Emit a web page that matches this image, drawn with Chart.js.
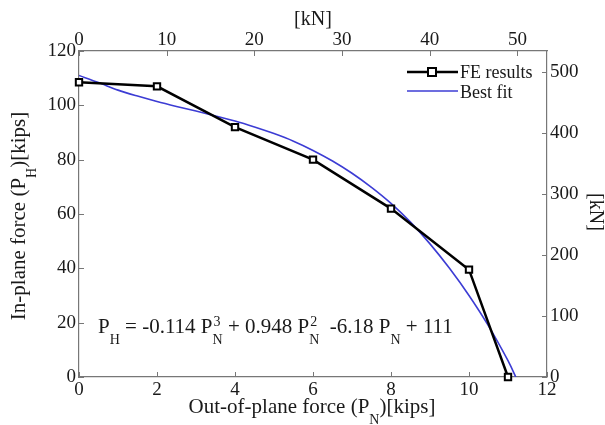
<!DOCTYPE html>
<html>
<head>
<meta charset="utf-8">
<script src="https://cdn.jsdelivr.net/npm/chart.js@4.4.0/dist/chart.umd.min.js"></script>
<style>
  html, body { margin: 0; padding: 0; background: #fff; }
</style>
</head>
<body>
<canvas id="grafico" width="605" height="425"></canvas>
<script>
        // ============ DATOS ============
        const KIP_A_KN = 4.448;

        // FE results (kips)
        const feX = [0, 2, 4, 6, 8, 10, 11];
        const feY = [108.5, 107, 92, 80, 62, 39.5, 0];

        // Best fit curve (kips)
        const fitX = [0, 0.5, 1, 1.5, 2, 2.5, 3, 3.5, 4, 4.5, 5, 5.5, 6, 6.5, 7, 7.5, 8, 8.5, 9, 9.5, 10, 10.5, 11, 11.2];
        const fitY = [111, 108.4, 105.6, 103.4, 101.4, 99.6, 97.9, 96.1, 94.2, 92, 89.6, 86.8, 83.4, 79.5, 75, 69.8, 63.9, 57, 49, 40, 30, 18.8, 6, 0];

        const xTicksKips = [0, 2, 4, 6, 8, 10, 12];
        const yTicksKips = [0, 20, 40, 60, 80, 100, 120];
        const xTicksKN = [0, 10, 20, 30, 40, 50];
        const yTicksKN = [0, 100, 200, 300, 400, 500];

        const serieFE = 'FE results';
        const serieFit = 'Best fit';

        // ============ ESTILOS ============
        const fuente = 'Liberation Serif, Times New Roman, serif';
        const colorTexto = '#1a1a1a';
        const colorEje = '#777777';
        const colorAzul = '#3c3cd4';

        const fontTicks = { family: fuente, size: 19 };

        function soloEstos(lista) {
            return function(scale) {
                scale.ticks = lista.map(v => ({ value: v }));
            };
        }

        // ============ TEXTO CON SUB/SUPERINDICES ============
        // partes: [texto, modo] modo: '' | 'sub' | 'subsup' (texto = [sub, sup])
        function medir(ctx, partes, size) {
            let w = 0;
            const small = Math.round(size * 0.66);
            partes.forEach(p => {
                if (p[1] === 'sub') {
                    ctx.font = small + 'px ' + fuente;
                    w += ctx.measureText(p[0]).width;
                } else if (p[1] === 'subsup') {
                    ctx.font = small + 'px ' + fuente;
                    w += Math.max(ctx.measureText(p[0][0]).width, ctx.measureText(p[0][1]).width);
                } else {
                    ctx.font = size + 'px ' + fuente;
                    w += ctx.measureText(p[0]).width;
                }
            });
            return w;
        }

        function dibujarRico(ctx, partes, x, y, size, centrado) {
            const small = Math.round(size * 0.66);
            let cx = centrado ? x - medir(ctx, partes, size) / 2 : x;
            ctx.textBaseline = 'alphabetic';
            ctx.textAlign = 'left';
            ctx.fillStyle = colorTexto;
            partes.forEach(p => {
                if (p[1] === 'sub') {
                    ctx.font = small + 'px ' + fuente;
                    ctx.fillText(p[0], cx, y + size * 0.5);
                    cx += ctx.measureText(p[0]).width;
                } else if (p[1] === 'subsup') {
                    ctx.font = small + 'px ' + fuente;
                    ctx.fillText(p[0][0], cx, y + size * 0.5);
                    ctx.fillText(p[0][1], cx + 1, y - size * 0.34);
                    cx += Math.max(ctx.measureText(p[0][0]).width, ctx.measureText(p[0][1]).width);
                } else {
                    ctx.font = size + 'px ' + fuente;
                    ctx.fillText(p[0], cx, y);
                    cx += ctx.measureText(p[0]).width;
                }
            });
        }

        // ============ PLUGIN: ticks hacia dentro, titulos, ecuacion, leyenda ============
        const decoracion = {
            id: 'decoracion',
            afterDraw(chart) {
                const ctx = chart.ctx;
                const a = chart.chartArea;
                const largo = 5;
                ctx.save();

                // ticks hacia dentro (estilo matlab)
                ctx.strokeStyle = colorEje;
                ctx.lineWidth = 1;
                ctx.beginPath();
                chart.scales.x.ticks.forEach(t => {
                    const p = Math.round(chart.scales.x.getPixelForValue(t.value)) + 0.5;
                    ctx.moveTo(p, a.bottom); ctx.lineTo(p, a.bottom - largo);
                });
                chart.scales.x2.ticks.forEach(t => {
                    const p = Math.round(chart.scales.x2.getPixelForValue(t.value)) + 0.5;
                    ctx.moveTo(p, a.top); ctx.lineTo(p, a.top + largo);
                });
                chart.scales.y.ticks.forEach(t => {
                    const p = Math.round(chart.scales.y.getPixelForValue(t.value)) + 0.5;
                    ctx.moveTo(a.left, p); ctx.lineTo(a.left + largo, p);
                });
                chart.scales.y2.ticks.forEach(t => {
                    const p = Math.round(chart.scales.y2.getPixelForValue(t.value)) + 0.5;
                    ctx.moveTo(a.right, p); ctx.lineTo(a.right - largo, p);
                });
                ctx.stroke();

                // titulos de ejes
                dibujarRico(ctx, [['[kN]', '']], 313, 25, 20, true);
                dibujarRico(ctx, [['Out-of-plane force (P', ''], ['N', 'sub'], [')[kips]', '']], 312, 413, 21, true);

                ctx.save();
                ctx.translate(25, 216);
                ctx.rotate(-Math.PI / 2);
                dibujarRico(ctx, [['In-plane force (P', ''], ['H', 'sub'], [')[kips]', '']], 0, 0, 21, true);
                ctx.restore();

                ctx.save();
                ctx.translate(590, 212);
                ctx.rotate(Math.PI / 2);
                dibujarRico(ctx, [['[kN]', '']], 0, 0, 20, true);
                ctx.restore();

                // ecuacion
                dibujarRico(ctx, [
                    ['P', ''], ['H', 'sub'], [' = -0.114 P', ''], [['N', '3'], 'subsup'],
                    [' + 0.948 P', ''], [['N', '2'], 'subsup'],
                    ['  -6.18 P', ''], ['N', 'sub'], [' + 111', '']
                ], 98, 333, 21, false);

                // leyenda
                const dsFE = chart.data.datasets[0];
                const dsFit = chart.data.datasets[1];
                const lx0 = 407, lx1 = 458, ly1 = 72, ly2 = 91;
                ctx.strokeStyle = dsFE.borderColor;
                ctx.lineWidth = dsFE.borderWidth;
                ctx.beginPath(); ctx.moveTo(lx0, ly1); ctx.lineTo(lx1, ly1); ctx.stroke();
                ctx.fillStyle = '#fff';
                ctx.fillRect(428, ly1 - 4, 8, 8);
                ctx.lineWidth = 2;
                ctx.strokeRect(428, ly1 - 4, 8, 8);
                ctx.strokeStyle = dsFit.borderColor;
                ctx.lineWidth = dsFit.borderWidth;
                ctx.beginPath(); ctx.moveTo(lx0, ly2); ctx.lineTo(lx1, ly2); ctx.stroke();

                ctx.fillStyle = colorTexto;
                ctx.font = '18px ' + fuente;
                ctx.textBaseline = 'middle';
                ctx.textAlign = 'left';
                ctx.fillText(dsFE.label, 460, ly1 + 1);
                ctx.fillText(dsFit.label, 460, ly2 + 2);

                ctx.restore();
            }
        };

        // ============ CHART.JS ============
        const ctx = document.getElementById('grafico').getContext('2d');
        const chart = new Chart(ctx, {
            type: 'line',
            data: {
                datasets: [
                    {
                        label: serieFE,
                        data: feX.map((x, i) => ({ x: x, y: feY[i] })),
                        borderColor: '#000000',
                        borderWidth: 2.5,
                        pointStyle: 'rect',
                        pointRadius: 4.5,
                        pointBorderWidth: 2,
                        pointBackgroundColor: '#ffffff',
                        pointBorderColor: '#000000',
                        tension: 0,
                        clip: false,
                        order: 1
                    },
                    {
                        label: serieFit,
                        data: fitX.map((x, i) => ({ x: x, y: fitY[i] })),
                        borderColor: colorAzul,
                        borderWidth: 1.6,
                        pointRadius: 0,
                        tension: 0.3,
                        order: 2
                    }
                ]
            },
            options: {
                responsive: false,
                animation: false,
                devicePixelRatio: 1,
                layout: { padding: 0 },
                plugins: {
                    legend: { display: false },
                    tooltip: { enabled: false }
                },
                scales: {
                    x: {
                        type: 'linear',
                        position: 'bottom',
                        min: 0, max: 12,
                        afterBuildTicks: soloEstos(xTicksKips),
                        afterFit: s => { s.height = 48; },
                        ticks: { font: fontTicks, color: colorTexto, padding: 2, maxRotation: 0 },
                        grid: { display: false, drawTicks: false },
                        border: { display: true, color: colorEje, width: 1.2 }
                    },
                    x2: {
                        type: 'linear',
                        position: 'top',
                        min: 0, max: 12 * KIP_A_KN,
                        afterBuildTicks: soloEstos(xTicksKN),
                        afterFit: s => { s.height = 51; },
                        ticks: { font: fontTicks, color: colorTexto, padding: 0, maxRotation: 0 },
                        grid: { display: false, drawTicks: false },
                        border: { display: true, color: colorEje, width: 1.2 }
                    },
                    y: {
                        type: 'linear',
                        position: 'left',
                        min: 0, max: 120,
                        afterBuildTicks: soloEstos(yTicksKips),
                        afterFit: s => { s.width = 79; },
                        ticks: { font: fontTicks, color: colorTexto, padding: 3 },
                        grid: { display: false, drawTicks: false },
                        border: { display: true, color: colorEje, width: 1.2 }
                    },
                    y2: {
                        type: 'linear',
                        position: 'right',
                        min: 0, max: 120 * KIP_A_KN,
                        afterBuildTicks: soloEstos(yTicksKN),
                        afterFit: s => { s.width = 58; },
                        ticks: { font: fontTicks, color: colorTexto, padding: 3 },
                        grid: { display: false, drawTicks: false },
                        border: { display: true, color: colorEje, width: 1.2 }
                    }
                }
            },
            plugins: [decoracion]
        });
</script>
</body>
</html>
